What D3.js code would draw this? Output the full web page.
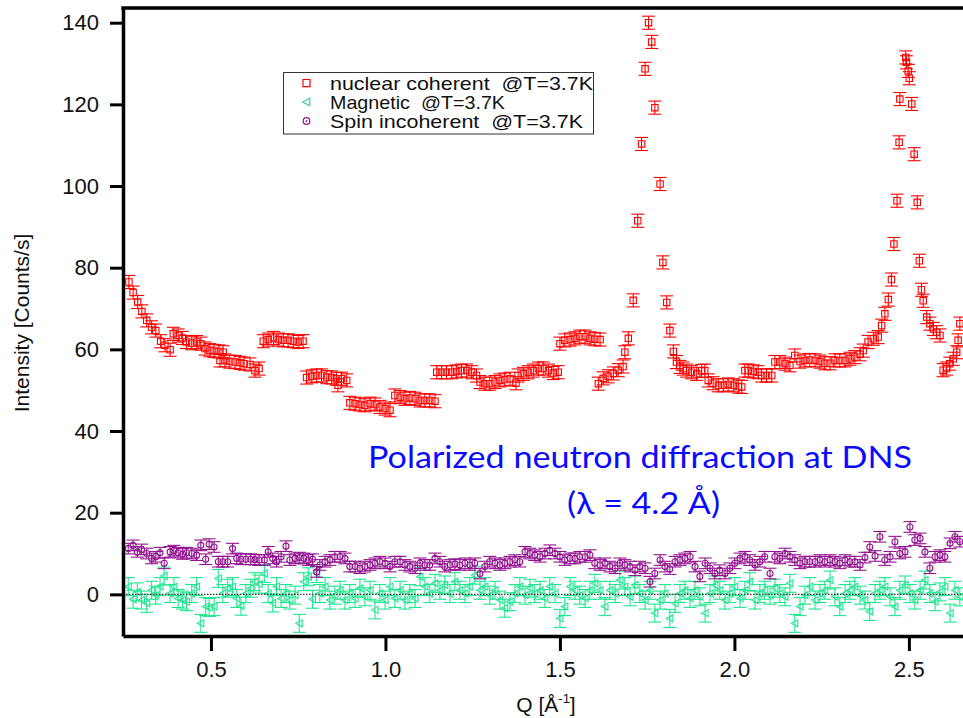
<!DOCTYPE html>
<html>
<head>
<meta charset="utf-8">
<script src="https://cdn.jsdelivr.net/npm/d3@7"></script>
<style>
  body { margin: 0; background: #fff; }
  text { font-family: "Liberation Sans", Arial, Helvetica, sans-serif; }
</style>
</head>
<body>
<svg id="chart" width="963" height="718"></svg>
<script>
// ---- data ----
// nuclear coherent (red squares); several detector banks overlap, so Q is not monotonic
var qNuclear = [0.265,0.277,0.290,0.302,0.316,0.330,0.342,0.356,0.368,0.383,
  0.392,0.406,0.418,0.430,0.445,0.459,0.471,0.483,0.497,0.509,0.523,0.535,
  0.526,0.540,0.554,0.569,0.583,0.595,0.612,0.626,0.638,
  0.650,0.664,0.679,0.693,0.707,0.721,0.736,0.750,0.764,
  0.774,0.789,0.803,0.817,0.832,0.846,0.860,0.864,0.874,0.889,
  0.898,0.913,0.927,0.941,0.956,0.970,0.984,0.999,1.013,
  1.027,1.042,1.056,1.070,1.085,1.099,1.113,1.127,1.142,
  1.147,1.161,1.175,1.190,1.204,1.218,1.233,1.247,1.261,
  1.271,1.285,1.299,1.314,1.328,1.342,1.357,1.374,
  1.380,1.395,1.409,1.424,1.438,1.452,1.467,1.481,1.495,
  1.500,1.514,1.529,1.543,1.557,1.572,1.586,1.600,1.615,
  1.610,1.624,1.638,1.653,1.667,1.681,1.686,1.696,1.710,1.723,1.734,1.744,
  1.754,1.763,1.772,1.787,1.795,1.806,1.815,1.825,1.834,1.844,1.853,1.863,
  1.877,1.892,1.906,1.915,1.925,1.939,1.954,1.968,1.982,1.997,2.011,2.021,
  2.030,2.040,2.054,2.068,2.078,2.092,2.107,2.116,2.130,2.145,2.159,2.173,
  2.188,2.202,2.216,2.231,2.245,2.259,2.274,2.288,2.302,2.317,2.331,2.345,
  2.360,2.369,2.383,2.398,2.412,2.422,2.431,2.441,2.450,2.457,2.466,2.472,
  2.474,2.491,2.493,2.498,2.501,2.508,2.515,2.524,2.530,2.536,2.541,2.551,
  2.560,2.570,2.579,2.589,2.598,2.608,2.617,2.627,2.637,2.641,2.646];
var nuclear = [76.5,73.9,71.6,69.3,67.1,65.4,64.6,62.0,61.0,59.9,
  63.8,63.4,62.8,61.8,61.5,61.8,61.4,60.2,59.8,59.6,59.5,59.3,
  57.3,57.3,57.0,56.9,56.7,56.5,56.3,54.8,55.3,
  62.0,62.4,62.8,62.4,62.2,62.2,62.0,61.8,62.0,
  53.1,53.4,53.6,53.6,53.2,53.1,52.8,51.2,52.8,52.4,
  46.9,46.7,46.5,46.3,46.7,46.5,45.9,45.5,45.1,
  48.7,48.3,47.9,48.1,47.9,47.5,47.5,47.5,47.3,
  54.4,54.4,54.4,54.4,54.6,54.8,54.8,54.4,53.6,
  52.0,51.6,51.6,52.0,52.4,52.6,52.8,51.7,
  53.6,54.0,54.4,54.8,55.3,55.3,54.8,54.2,54.4,
  61.4,62.2,62.4,62.7,63.1,63.1,62.7,62.5,62.4,
  51.6,52.9,53.4,54.1,54.9,55.8,59.3,62.7,72.0,91.5,110.3,128.7,
  140.0,135.3,119.2,100.5,81.3,71.5,64.6,59.5,56.9,55.7,55.3,54.8,
  54.4,54.0,54.7,54.8,52.4,51.7,51.2,51.2,51.4,51.2,50.9,50.8,
  54.8,54.8,54.6,54.4,53.6,53.6,53.6,56.9,56.9,56.5,56.1,58.5,
  57.0,57.3,57.4,57.3,57.0,56.6,56.6,57.3,57.3,57.3,57.7,58.1,
  58.8,59.7,61.8,62.6,63.0,65.8,68.7,72.2,77.1,85.8,96.4,110.7,
  121.3,131.5,130.3,128.2,126.4,120.1,107.8,96.0,81.7,74.6,71.9,67.9,
  66.3,65.0,64.2,63.4,54.9,55.3,56.5,57.7,59.3,62.2,66.3];

// magnetic and spin incoherent share the same Q points
var qLow = [0.263,0.277,0.289,0.301,0.316,0.330,0.342,0.354,0.366,0.383,
  0.394,0.406,0.419,0.430,0.445,0.459,0.471,0.485,0.495,0.509,
  0.521,0.534,0.548,0.562,0.574,0.586,0.600,0.614,0.626,0.638,
  0.653,0.664,0.677,0.688,0.701,0.715,0.726,0.741,0.753,0.766,
  0.779,0.791,0.803,
  0.812,0.827,0.841,0.855,0.870,0.884,0.898,0.913,0.927,0.941,
  0.956,0.970,0.984,0.999,1.013,1.027,1.042,1.056,1.070,1.085,
  1.099,1.113,1.127,1.142,1.156,1.170,1.185,1.199,1.213,1.228,
  1.242,1.256,1.271,1.285,1.299,1.314,1.328,1.342,1.357,1.371,
  1.385,1.400,1.414,1.428,1.443,1.457,1.471,1.486,1.500,1.514,
  1.529,1.543,1.557,1.572,1.586,1.600,1.615,1.629,1.643,1.658,
  1.672,1.686,1.701,1.715,
  1.729,1.744,1.758,1.772,1.787,1.801,1.815,1.830,1.844,1.858,
  1.873,1.887,1.901,1.916,1.930,1.944,1.958,1.973,1.987,2.001,
  2.016,2.030,2.044,2.059,2.073,2.087,2.102,2.116,2.130,2.145,
  2.159,2.173,2.188,2.202,2.216,2.231,2.245,2.259,2.274,2.288,
  2.302,2.317,2.331,2.345,2.360,2.374,2.388,2.403,2.417,2.431,
  2.446,2.460,2.474,2.489,2.503,2.517,2.532,2.546,2.560,2.575,
  2.589,2.603,2.618,2.632,2.646];
var spinInc = [11.2,12.0,10.4,11.0,10.0,8.8,9.2,10.2,7.6,10.4,
  10.7,10.2,9.9,10.2,10.0,9.6,12.0,8.6,12.3,11.6,
  8.0,8.0,8.0,11.2,8.8,8.6,8.6,8.6,8.5,8.4,
  8.4,10.4,8.8,8.0,9.2,11.8,8.4,8.8,9.0,8.8,
  8.4,8.6,5.5,
  7.2,8.0,8.4,9.2,9.2,8.8,6.8,6.8,6.4,6.8,
  7.2,7.6,8.0,7.6,6.8,8.0,8.0,7.2,6.8,6.4,
  7.6,7.2,7.2,8.8,8.0,6.8,7.2,7.4,7.2,7.6,
  7.2,7.6,5.1,6.8,8.0,7.6,7.2,7.6,8.0,8.4,
  8.0,10.4,10.0,9.6,9.2,10.0,10.8,10.0,9.2,8.4,
  8.8,8.8,9.2,9.2,9.6,7.6,7.2,7.6,6.8,6.4,
  7.6,7.2,6.8,5.9,
  6.8,6.4,3.1,5.1,8.4,6.8,6.2,8.0,8.4,8.8,
  9.2,6.8,4.4,7.6,6.4,5.1,5.9,5.1,6.4,7.6,
  8.8,9.2,8.4,7.2,8.0,9.2,5.1,9.2,8.8,10.0,
  9.2,8.4,7.6,8.0,8.0,8.0,8.4,8.0,8.4,8.0,
  7.6,8.4,8.0,8.0,7.2,9.0,11.6,9.4,14.1,8.4,
  9.2,12.9,10.0,10.4,16.5,13.3,13.7,10.4,6.4,9.2,
  9.6,9.2,12.5,14.1,12.9];
var magnetic = [1.9,-1.2,0.6,-1.4,-2.2,1.0,-0.2,1.9,4.5,0.2,
  1.9,-1.0,-1.4,-1.8,0.2,1.9,-7.1,-3.0,-3.2,-3.0,
  3.9,0.2,1.5,1.9,-1.0,-2.9,0.2,1.5,3.1,2.5,
  5.1,0.2,-2.1,1.9,-1.0,0.2,-1.4,-0.2,-7.1,3.1,
  4.3,-1.2,5.1,
  0.2,1.9,-1.4,-0.2,1.0,-1.4,0.2,-1.0,1.5,-0.6,
  1.0,-3.8,0.2,-1.4,1.9,-1.0,1.0,-1.4,0.2,-1.0,
  4.3,1.9,0.2,2.7,1.0,2.3,0.2,3.1,1.0,0.2,
  1.9,4.7,1.0,1.9,-0.2,1.0,-1.4,-3.4,-1.8,0.2,
  1.9,-0.2,1.5,0.2,1.0,-1.0,1.9,0.2,-5.9,-3.0,
  1.9,1.0,-0.2,-1.0,1.0,2.7,1.0,-3.0,1.0,0.2,
  3.5,1.9,-0.6,2.3,
  0.2,-1.4,1.0,-4.6,-1.4,0.2,-5.9,-2.2,0.2,1.0,
  -1.0,1.0,-0.6,-4.6,0.2,2.3,1.0,-1.4,0.2,1.9,
  -1.0,1.0,3.1,-1.4,0.2,1.0,-0.2,1.5,0.2,-0.6,
  2.7,-7.1,-3.0,-0.2,1.9,-1.4,0.2,1.0,3.5,-0.6,
  -3.0,0.2,1.0,1.9,-0.2,-1.4,-4.2,0.2,1.0,1.9,
  -0.6,-3.0,1.0,2.3,0.2,-1.4,1.0,3.5,0.2,-1.8,
  0.6,1.9,-4.6,1.0,-0.6];

// error bar half heights (counts/s)
var errNuclear = 1.6, errSpin = 1.3, errMagnetic = 2.2;

var xTicks = [0.5, 1.0, 1.5, 2.0, 2.5];
var yTicks = [0, 20, 40, 60, 80, 100, 120, 140];
var legendLabels = ["nuclear coherent  @T=3.7K", "Magnetic  @T=3.7K", "Spin incoherent  @T=3.7K"];
var noteLines = ["Polarized neutron diffraction at DNS", "(\u03bb = 4.2 \u00c5)"];

var colRed = "#ff0000", colGreen = "#1fe690", colPurple = "#93128f";

// ---- scales ----
var plotLeft = 123, plotTop = 8, plotBottom = 636, plotRight = 963;
var x = d3.scaleLinear().domain([0.248, 2.655]).range([plotLeft, plotRight]);
var y = d3.scaleLinear().domain([-10.2, 143.6]).range([plotBottom, plotTop]);

var svg = d3.select("#chart");

// error bars + markers for one series
function drawSeries(qs, vals, err, color, shape) {
  var g = svg.append("g").attr("class", "series");
  var pts = qs.map(function(q, i) { return {q: q, v: vals[i]}; });

  var eb = g.selectAll(".eb").data(pts).enter().append("g")
      .attr("transform", function(d) { return "translate(" + x(d.q) + ",0)"; })
      .attr("stroke", color).attr("stroke-width", 1.1).attr("fill", "none");
  eb.append("line")
      .attr("x1", 0).attr("x2", 0)
      .attr("y1", function(d) { return y(d.v - err); })
      .attr("y2", function(d) { return y(d.v + err); });
  eb.append("line")
      .attr("x1", -6.5).attr("x2", 6.5)
      .attr("y1", function(d) { return y(d.v + err); })
      .attr("y2", function(d) { return y(d.v + err); });
  eb.append("line")
      .attr("x1", -6.5).attr("x2", 6.5)
      .attr("y1", function(d) { return y(d.v - err); })
      .attr("y2", function(d) { return y(d.v - err); });

  eb.append("path")
      .attr("transform", function(d) { return "translate(0," + y(d.v) + ")"; })
      .attr("d", shape);
}

var squarePath = "M-3.2,-3.2H3.2V3.2H-3.2Z";
var trianglePath = "M-3.5,0L3,-3.5L3,3.5Z";
var circlePath = "M-3,0A3,3 0 1,0 3,0A3,3 0 1,0 -3,0";

drawSeries(qLow, magnetic, errMagnetic, colGreen, trianglePath);

// dotted zero line
svg.append("line")
    .attr("x1", plotLeft).attr("x2", plotRight)
    .attr("y1", y(0)).attr("y2", y(0))
    .attr("stroke", "#333").attr("stroke-width", 1.3)
    .attr("stroke-dasharray", "1.5,1.5");

drawSeries(qLow, spinInc, errSpin, colPurple, circlePath);
drawSeries(qNuclear, nuclear, errNuclear, colRed, squarePath);

// ---- axes ----
var yAxis = d3.axisLeft(y).tickValues(yTicks).tickSize(13).tickSizeOuter(0).tickPadding(11);
var xAxis = d3.axisBottom(x).tickValues(xTicks).tickSize(15).tickSizeOuter(0).tickPadding(10)
    .tickFormat(d3.format(".1f"));

var gy = svg.append("g").attr("transform", "translate(" + plotLeft + ",0)").call(yAxis);
var gx = svg.append("g").attr("transform", "translate(0," + plotBottom + ")").call(xAxis);

[gx, gy].forEach(function(g) {
  g.select(".domain").attr("stroke", "#000").attr("stroke-width", 3.5);
  g.selectAll(".tick line").attr("stroke", "#000").attr("stroke-width", 3);
  g.selectAll(".tick text").attr("fill", "#111").style("font-size", "22px")
      .style("font-family", "'Liberation Sans', Arial, sans-serif");
});

// top frame line
svg.append("line")
    .attr("x1", plotLeft - 1.75).attr("x2", plotRight)
    .attr("y1", plotTop).attr("y2", plotTop)
    .attr("stroke", "#000").attr("stroke-width", 3.5);

// axis titles
svg.append("text")
    .attr("transform", "translate(29," + ((plotTop + plotBottom) / 2 + 1) + ") rotate(-90)")
    .attr("text-anchor", "middle")
    .style("font-size", "21px").attr("fill", "#111")
    .text("Intensity [Counts/s]");

var xt = svg.append("text")
    .attr("x", 546).attr("y", 712)
    .attr("text-anchor", "middle")
    .style("font-size", "21px").attr("fill", "#111");
xt.append("tspan").text("Q [\u00c5");
xt.append("tspan").attr("dy", -9).style("font-size", "13px").text("-1");
xt.append("tspan").attr("dy", 9).text("]");

// ---- legend ----
var lg = svg.append("g").attr("transform", "translate(283.5,72.5)");
lg.append("rect").attr("width", 310).attr("height", 61.5)
    .attr("fill", "#fff").attr("stroke", "#333").attr("stroke-width", 1);
var legendShapes = [squarePath, trianglePath, circlePath];
var legendColors = [colRed, "#3fcf9c", colPurple];
var legendWidths = [263, 175, 253];
var rows = lg.selectAll(".row").data(legendLabels).enter().append("g")
    .attr("transform", function(d, i) { return "translate(0," + (10.5 + i * 19) + ")"; });
rows.append("path")
    .attr("transform", "translate(23,0) scale(1.1)")
    .attr("d", function(d, i) { return legendShapes[i]; })
    .attr("fill", "none")
    .attr("stroke", function(d, i) { return legendColors[i]; })
    .attr("stroke-width", 1.1);
rows.filter(function(d, i) { return i === 2; }).append("circle")
    .attr("cx", 23).attr("cy", 0).attr("r", 0.9).attr("fill", colPurple);
rows.append("text")
    .attr("x", 46.5).attr("y", 6.5)
    .attr("textLength", function(d, i) { return legendWidths[i]; })
    .attr("lengthAdjust", "spacingAndGlyphs")
    .style("font-size", "18.5px").style("white-space", "pre").attr("fill", "#111")
    .text(function(d) { return d; });

// ---- blue note ----
svg.selectAll(".note").data(noteLines).enter().append("text")
    .attr("x", function(d, i) { return i === 0 ? 368 : 567; })
    .attr("y", function(d, i) { return i === 0 ? 468 : 514; })
    .attr("textLength", function(d, i) { return i === 0 ? 544 : 153; })
    .attr("lengthAdjust", "spacingAndGlyphs")
    .attr("fill", "#0a0aff")
    .style("font-family", "Lato, 'Open Sans', sans-serif")
    .style("font-size", "31px")
    .text(function(d) { return d; });
</script>
</body>
</html>
